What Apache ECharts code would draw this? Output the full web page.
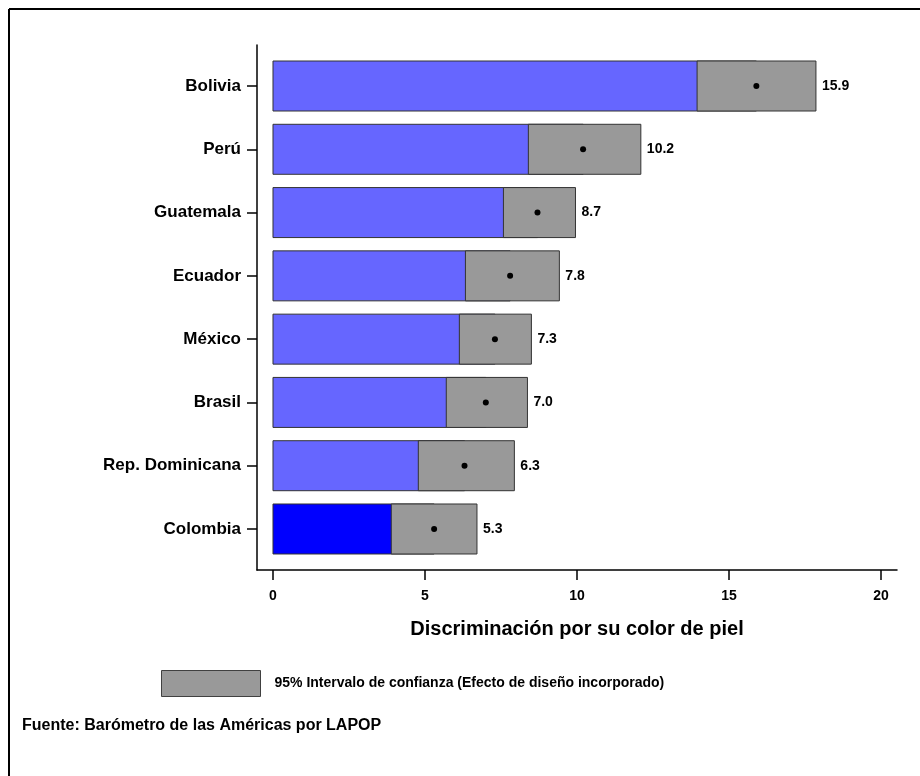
<!DOCTYPE html>
<html>
<head>
<meta charset="utf-8">
<script src="https://cdn.jsdelivr.net/npm/echarts@6/dist/echarts.min.js"></script>
<style>html,body{margin:0;padding:0;background:#fff;}#chart{width:920px;height:776px;}</style>
</head>
<body>
<div id="chart"></div>
<script>
const countries = ['Bolivia', 'Perú', 'Guatemala', 'Ecuador', 'México', 'Brasil', 'Rep. Dominicana', 'Colombia'];
const means = [15.9, 10.2, 8.7, 7.8, 7.3, 7.0, 6.3, 5.3];
const lowerCI = [13.95, 8.40, 7.58, 6.33, 6.13, 5.70, 4.78, 3.89];
const upperCI = [17.86, 12.10, 9.95, 9.42, 8.50, 8.37, 7.94, 6.71];
const xTicks = [0, 5, 10, 15, 20];
const highlight = 'Colombia';
const ciName = '95% Intervalo de confianza (Efecto de diseño incorporado)';
const FONT = '"Liberation Sans", Arial, sans-serif';

const rows = countries.map((c, i) => [i, lowerCI[i], upperCI[i], means[i]]);

const chart = echarts.init(document.getElementById('chart'));
chart.setOption({
  animation: false,
  backgroundColor: '#fff',
  textStyle: { fontFamily: FONT },
  grid: { left: 257, right: 23, top: 45, bottom: 206 },
  title: {
    text: 'Fuente: Barómetro de las Américas por LAPOP',
    left: 22, top: 718, padding: 0,
    textStyle: { fontFamily: FONT, fontWeight: 'bold', fontSize: 16, color: '#000' }
  },
  legend: {
    left: 161, top: 670, padding: 0,
    itemWidth: 99, itemHeight: 26,
    data: [{ name: ciName, icon: 'rect', itemStyle: { color: '#999999', borderColor: '#404040', borderWidth: 1 } }],
    textStyle: { fontFamily: FONT, fontWeight: 'bold', fontSize: 14, color: '#000', padding: [0, 0, 0, 9] }
  },
  xAxis: {
    type: 'value', min: -0.526, max: 20.526,
    axisLine: { show: true, onZero: false, lineStyle: { color: '#000', width: 1.5 } },
    axisTick: { show: true, length: 10, customValues: xTicks, lineStyle: { color: '#000', width: 1.5 } },
    axisLabel: { customValues: xTicks, margin: 19, fontFamily: FONT, fontWeight: 'bold', fontSize: 14, color: '#000' },
    splitLine: { show: false },
    name: 'Discriminación por su color de piel',
    nameLocation: 'middle', nameGap: 49,
    nameTextStyle: { fontFamily: FONT, fontWeight: 'bold', fontSize: 20, color: '#000' }
  },
  yAxis: {
    type: 'value', inverse: true, min: -0.648, max: 7.648,
    axisLine: { show: true, onZero: false, lineStyle: { color: '#000', width: 1.5 } },
    axisTick: { show: true, length: 10, customValues: countries.map((c, i) => i), lineStyle: { color: '#000', width: 1.5 } },
    axisLabel: {
      customValues: countries.map((c, i) => i), margin: 16,
      formatter: v => countries[Math.round(v)],
      fontFamily: FONT, fontWeight: 'bold', fontSize: 17, color: '#000'
    },
    splitLine: { show: false }
  },
  series: [
    {
      type: 'custom', name: 'Media', z: 1,
      encode: { x: [1, 2, 3], y: 0 },
      data: rows,
      renderItem: (params, api) => {
        const idx = api.value(0);
        const p0 = api.coord([0, idx]);
        const pm = api.coord([api.value(3), idx]);
        const h = api.size([0, 0.79])[1];
        const isHi = countries[idx] === highlight;
        return {
          type: 'rect',
          shape: { x: p0[0], y: p0[1] - h / 2, width: pm[0] - p0[0], height: h },
          style: { fill: isHi ? '#0000FF' : '#6666FF', stroke: '#333', lineWidth: 1 }
        };
      }
    },
    {
      type: 'custom', name: ciName, z: 2,
      itemStyle: { color: '#999999', borderColor: '#404040', borderWidth: 1 },
      encode: { x: [1, 2, 3], y: 0 },
      data: rows,
      renderItem: (params, api) => {
        const idx = api.value(0);
        const pl = api.coord([api.value(1), idx]);
        const pu = api.coord([api.value(2), idx]);
        const pm = api.coord([api.value(3), idx]);
        const h = api.size([0, 0.79])[1];
        return {
          type: 'group',
          children: [
            {
              type: 'rect',
              shape: { x: pl[0], y: pl[1] - h / 2, width: pu[0] - pl[0], height: h },
              style: { fill: '#999999', stroke: '#333', lineWidth: 1 }
            },
            {
              type: 'circle',
              shape: { cx: pm[0], cy: pm[1], r: 3 },
              style: { fill: '#000' }
            },
            {
              type: 'text',
              style: {
                text: api.value(3).toFixed(1),
                x: pu[0] + 6, y: pu[1],
                verticalAlign: 'middle', align: 'left',
                fontFamily: FONT, fontWeight: 'bold', fontSize: 14, fill: '#000'
              }
            }
          ]
        };
      }
    }
  ],
  graphic: [
    { type: 'line', shape: { x1: 9, y1: 9, x2: 920, y2: 9 }, style: { stroke: '#000', lineWidth: 2 } },
    { type: 'line', shape: { x1: 9, y1: 9, x2: 9, y2: 776 }, style: { stroke: '#000', lineWidth: 2 } }
  ]
});
</script>
</body>
</html>
